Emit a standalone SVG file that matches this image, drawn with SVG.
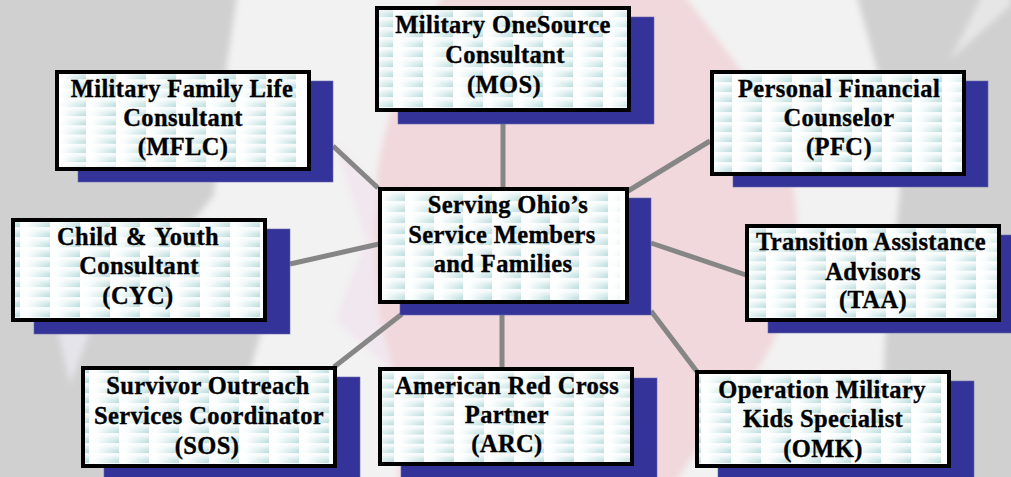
<svg xmlns="http://www.w3.org/2000/svg" xmlns:xlink="http://www.w3.org/1999/xlink" width="1011" height="477" viewBox="0 0 1011 477">
<style>
.sh{fill:#333399;stroke:#6a6ab0;stroke-width:.6}
.bx{fill:#fff;stroke:#000;stroke-width:4}
.c{stroke:#868686;stroke-width:5;fill:none}
text{font-family:"Liberation Serif","Times New Roman",serif;font-weight:700;font-size:24.5px;fill:#000;stroke:#000;stroke-width:.35;text-anchor:middle;letter-spacing:.38px}
</style>
<defs>
<filter id="bl" x="-10%" y="-10%" width="120%" height="120%"><feGaussianBlur stdDeviation="3"/></filter>
<linearGradient id="h"><stop offset="0" stop-color="#fff"/><stop offset=".25" stop-color="#fafdfd"/><stop offset="1" stop-color="#bcdddd"/></linearGradient>
<linearGradient id="v" x1="0" y1="0" x2="0" y2="1"><stop offset="0" stop-color="#fff" stop-opacity=".95"/><stop offset=".55" stop-color="#fff" stop-opacity=".25"/><stop offset=".85" stop-color="#fff" stop-opacity="0"/></linearGradient>
<pattern id="t" width="30" height="10" patternUnits="userSpaceOnUse">
<rect width="30" height="10" fill="url(#h)"/><rect width="30" height="10" fill="url(#v)"/><rect y="9" width="30" height="1" fill="#fff" fill-opacity=".8"/>
</pattern>
<pattern id="p1" xlink:href="#t" patternTransform="translate(86,163) scale(1,.92)"/>
<pattern id="p2" xlink:href="#t" patternTransform="translate(393,108)"/>
<pattern id="p3" xlink:href="#t" patternTransform="translate(732,173)"/>
<pattern id="p4" xlink:href="#t" patternTransform="translate(405,301) scale(.967,1.1)"/>
<pattern id="p5" xlink:href="#t" patternTransform="translate(20,318)"/>
<pattern id="p6" xlink:href="#t" patternTransform="translate(766,318) scale(1,.93)"/>
<pattern id="p7" xlink:href="#t" patternTransform="translate(119,464)"/>
<pattern id="p8" xlink:href="#t" patternTransform="translate(394,463) scale(1,.92)"/>
<pattern id="p9" xlink:href="#t" patternTransform="translate(731,464)"/>
</defs>
<rect width="1011" height="477" fill="#f2f2f2"/>
<g id="background" filter="url(#bl)">
<path fill="#d0d0d0" d="M-10-10H238L226 70 214 195 190 225 262 330 250 370 240 490H-10Z"/>
<path fill="#e4e4ea" d="M58 332 90 332 70 385Z"/>
<path fill="#d0d0d0" d="M855-10 880 80 900 190 885 340 880 490H1020V-10Z"/>
<path fill="#e6e6e6" d="M950 60 985-10 1011-10 1011 5Z"/>
<path fill="#f0d8dc" d="M447-10C415 40 385 110 377 177 370 240 376 320 393 385 405 430 395 470 400 490H670C685 470 700 440 735 400 780 350 800 280 797 220 795 160 765 100 737 65 715 35 695 10 680-10Z"/>
<path fill="#f1e7ee" d="M333 140 380 190 372 240 380 320 395 375 335 320 366 240Z"/>
</g>
<g id="connectors" class="c">
<path d="M333 146 378 188"/><path d="M503 124V188"/><path d="M628 191 710 141"/><path d="M651 243 749 276"/><path d="M290 264 379 244"/><path d="M334 367 402 314"/><path d="M502 315V368"/><path d="M651 311 698 373"/>
</g>
<g id="mflc"><rect class="sh" x="78" y="81" width="255" height="101"/><rect class="bx" x="57" y="72" width="252" height="97"/><rect fill="url(#p1)" x="59" y="74" width="237" height="93"/><text x="182" y="97">Military Family Life</text><text x="183" y="126">Consultant</text><text x="183" y="155">(MFLC)</text></g>
<g id="mos"><rect class="sh" x="398" y="17" width="256" height="107"/><rect class="bx" x="377" y="8" width="252" height="102"/><rect fill="url(#p2)" x="379" y="10" width="248" height="98"/><text x="503" y="33">Military OneSource</text><text x="505" y="63">Consultant</text><text x="504" y="93">(MOS)</text></g>
<g id="pfc"><rect class="sh" x="733" y="81" width="255" height="106"/><rect class="bx" x="712" y="72" width="252" height="102"/><rect fill="url(#p3)" x="714" y="74" width="248" height="98"/><text x="839" y="97">Personal Financial</text><text x="839" y="126">Counselor</text><text x="839" y="155">(PFC)</text></g>
<g id="center"><rect class="sh" x="400" y="198" width="251" height="117"/><rect class="bx" x="380" y="189" width="247" height="113"/><rect fill="url(#p4)" x="382" y="191" width="238" height="109"/><text x="508" y="213">Serving Ohio’s</text><text x="502" y="243">Service Members</text><text x="503" y="272">and Families</text></g>
<g id="cyc"><rect class="sh" x="34" y="229" width="256" height="105"/><rect class="bx" x="13" y="220" width="252" height="100"/><rect fill="url(#p5)" x="15" y="222" width="245" height="96"/><text x="138" y="245" word-spacing="2">Child &amp; Youth</text><text x="139" y="274">Consultant</text><text x="138" y="304">(CYC)</text></g>
<g id="taa"><rect class="sh" x="768" y="235" width="250" height="98"/><rect class="bx" x="747" y="226" width="252" height="94"/><rect fill="url(#p6)" x="749" y="228" width="248" height="90"/><text x="871" y="250">Transition Assistance</text><text x="873" y="280">Advisors</text><text x="873" y="308">(TAA)</text></g>
<g id="sos"><rect class="sh" x="104" y="377" width="256" height="105"/><rect class="bx" x="83" y="368" width="252" height="98"/><rect fill="url(#p7)" x="85" y="370" width="245" height="94"/><text x="208" y="394">Survivor Outreach</text><text x="209" y="424">Services Coordinator</text><text x="207" y="454">(SOS)</text></g>
<g id="arc"><rect class="sh" x="401" y="378" width="256" height="104"/><rect class="bx" x="380" y="369" width="252" height="95"/><rect fill="url(#p8)" x="382" y="371" width="248" height="91"/><text x="507" y="394">American Red Cross</text><text x="507" y="423">Partner</text><text x="507" y="452">(ARC)</text></g>
<g id="omk"><rect class="sh" x="718" y="381" width="256" height="101"/><rect class="bx" x="697" y="372" width="252" height="94"/><rect fill="url(#p9)" x="699" y="374" width="242" height="90"/><text x="822" y="398">Operation Military</text><text x="823" y="427">Kids Specialist</text><text x="823" y="457">(OMK)</text></g>
</svg>
